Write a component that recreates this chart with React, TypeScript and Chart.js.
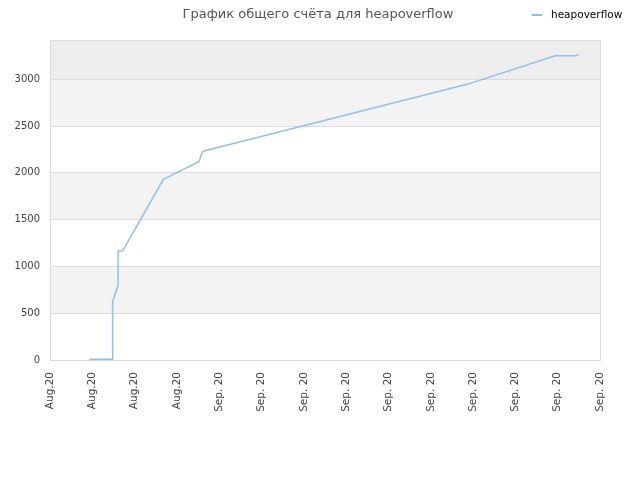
import { useEffect, useRef } from "react";
import { Chart, registerables } from "chart.js";

Chart.register(...registerables);

// chart text
const chartTitle = "График общего счёта для heapoverflow";
const seriesName = "heapoverflow";

// x positions are in units of the date-label slots (0 = first label)
const xPositions = [
  0.93, 1.48, 1.48, 1.61, 1.61, 1.72, 2.68, 3.52, 3.6, 3.66, 9.86, 11.94, 12.41, 12.49,
];
const scoreValues = [
  8, 8, 623, 801, 1168, 1168, 1931, 2119, 2223, 2237, 2946, 3252, 3252, 3263,
];

const xTickLabels = [
  "Aug.20", "Aug.20", "Aug.20", "Aug.20",
  "Sep. 20", "Sep. 20", "Sep. 20", "Sep. 20", "Sep. 20",
  "Sep. 20", "Sep. 20", "Sep. 20", "Sep. 20", "Sep. 20",
];
const yTickValues = [0, 500, 1000, 1500, 2000, 2500, 3000];
const yMax = 3420;

const lineColor = "#8ec1f2";

// shaded bands behind the plot, plus the frame, title and legend
const bandsPlugin = {
  id: "bands",
  beforeDraw(chart: any) {
    const { ctx, chartArea, scales } = chart;
    const y = scales.y;
    const bands = [
      [500, 1000, "#f3f3f3"],
      [1500, 2000, "#f3f3f3"],
      [2500, 3000, "#f3f3f3"],
      [3000, yMax, "#ededed"],
    ] as const;
    ctx.save();
    for (const [from, to, color] of bands) {
      const top = y.getPixelForValue(to);
      const bottom = y.getPixelForValue(from);
      ctx.fillStyle = color;
      ctx.fillRect(chartArea.left, top, chartArea.right - chartArea.left, bottom - top);
    }
    ctx.restore();
  },
  afterDraw(chart: any) {
    const { ctx, chartArea } = chart;
    ctx.save();
    ctx.strokeStyle = "#dcdcdc";
    ctx.lineWidth = 1;
    ctx.strokeRect(
      chartArea.left + 0.5,
      chartArea.top + 0.5,
      chartArea.right - chartArea.left,
      chartArea.bottom - chartArea.top
    );

    // title
    ctx.fillStyle = "#555";
    ctx.font = "13px 'DejaVu Sans'";
    ctx.textAlign = "center";
    ctx.textBaseline = "alphabetic";
    ctx.fillText(chartTitle, 318, 18);

    // legend
    ctx.strokeStyle = lineColor;
    ctx.lineWidth = 2;
    ctx.beginPath();
    ctx.moveTo(532, 15);
    ctx.lineTo(542, 15);
    ctx.stroke();
    ctx.fillStyle = "#000";
    ctx.font = "10.5px 'DejaVu Sans'";
    ctx.textAlign = "left";
    ctx.fillText(seriesName, 551, 18);
    ctx.restore();
  },
};

function ScoreChart() {
  const canvasRef = useRef<HTMLCanvasElement>(null);

  useEffect(() => {
    if (!canvasRef.current) return;
    const chart = new Chart(canvasRef.current, {
      type: "line",
      data: {
        datasets: [
          {
            label: seriesName,
            data: xPositions.map((x, i) => ({ x, y: scoreValues[i] })),
            borderColor: lineColor,
            borderWidth: 1.5,
            pointRadius: 0,
            tension: 0,
            fill: false,
          },
        ],
      },
      options: {
        animation: false,
        responsive: true,
        maintainAspectRatio: false,
        layout: { padding: { top: 40, right: 40, left: 0, bottom: 0 } },
        plugins: {
          legend: { display: false },
          title: { display: false },
          tooltip: { enabled: false },
        },
        scales: {
          x: {
            type: "linear",
            min: 0,
            max: xTickLabels.length - 1,
            afterBuildTicks: (scale: any) => {
              scale.ticks = xTickLabels.map((_, i) => ({ value: i }));
            },
            afterFit: (scale: any) => {
              scale.height = 120;
            },
            grid: { display: false, drawTicks: false },
            border: { display: false },
            ticks: {
              autoSkip: false,
              minRotation: 90,
              maxRotation: 90,
              padding: 12,
              color: "#444",
              font: { family: "'DejaVu Sans'", size: 10.5 },
              callback: (value: any) => xTickLabels[Math.round(Number(value))] ?? "",
            },
          },
          y: {
            min: 0,
            max: yMax,
            afterBuildTicks: (scale: any) => {
              scale.ticks = yTickValues.map((v) => ({ value: v }));
            },
            afterFit: (scale: any) => {
              scale.width = 50;
            },
            grid: { color: "#dcdcdc", drawTicks: false },
            border: { display: false },
            ticks: {
              padding: 10,
              color: "#444",
              font: { family: "'DejaVu Sans'", size: 10 },
              callback: (value: any) => String(value),
            },
          },
        },
      },
      plugins: [bandsPlugin],
    });
    return () => chart.destroy();
  }, []);

  return <canvas ref={canvasRef} />;
}

export default function App() {
  return (
    <div style={{ position: "absolute", left: 0, top: 0, width: 640, height: 480 }}>
      <ScoreChart />
    </div>
  );
}
